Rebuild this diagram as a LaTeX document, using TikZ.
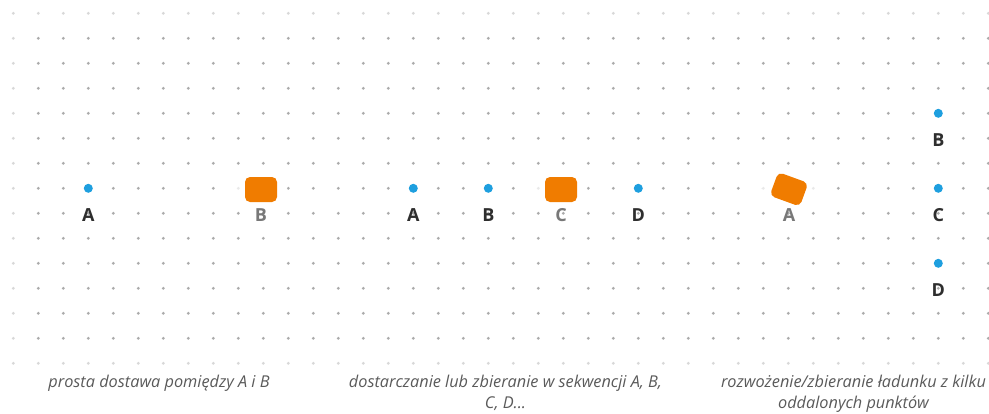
\documentclass[tikz,border=0pt]{standalone}
\usepackage{fontspec}
\setmainfont{Open Sans}
\usepackage{xcolor}
\usepackage{tikz}
\usetikzlibrary{positioning}
\definecolor{Sky}{HTML}{1E9FDF}
\definecolor{Cargo}{HTML}{F07C00}
\definecolor{GridDot}{HTML}{ABABAB}
\definecolor{GridFade}{HTML}{D8D8D8}
\definecolor{Ink}{HTML}{2E2E2E}
\definecolor{Muted}{HTML}{787878}
\definecolor{Caption}{HTML}{5A5A5A}

\begin{document}
\begin{tikzpicture}[
  x=1pt,y=-1pt,
  stop/.style={circle,fill=Sky,inner sep=0pt,minimum size=9pt},
  parcel/.style={fill=Cargo,rounded corners=5pt,inner sep=0pt,minimum width=32pt,minimum height=25pt},
  halo/.style={fill=white,fill opacity=0.75,rounded corners=8pt,inner sep=0pt,minimum width=52pt,minimum height=29pt},
  ptlabel/.style={font=\bfseries\fontsize{18}{18}\selectfont,text=Ink,inner sep=0pt,text height=12.9pt,text depth=0pt},
  boxlabel/.style={ptlabel,text=Muted},
  caption/.style={font=\itshape\fontsize{16.3}{21.5}\selectfont,text=Caption,align=center,anchor=base,inner sep=0pt}]
  \useasboundingbox[fill=white] (0,0) rectangle (989,413);
  % dotted background
  \foreach \i in {1,...,39}
    \foreach \j in {1,...,13}
      \fill[GridDot] (13.3+25*\i,13.3+25*\j) circle (1.6pt);
  \foreach \i in {0,...,39} {
    \fill[GridFade] (13.3+25*\i,13.3) circle (1.6pt);
    \fill[GridFade] (13.3+25*\i,363.3) circle (1.6pt);}
  \foreach \j in {1,...,13}
    \fill[GridFade] (13.3,13.3+25*\j) circle (1.6pt);

  % first scene: A -> B
  \node[stop] (a1) at (88.3,188.3) {};
  \node[halo] at (261,189.5) {};
  \node[parcel] (b1) at (261,189.5) {};
  \node[ptlabel,below=15.5pt of a1] (la1) {A};
  \node[boxlabel] (lb1) at (la1 -| b1) {B};

  % second scene: A, B, C, D
  \node[stop] (a2) at (413.3,188.3) {};
  \node[stop] (b2) at (488.3,188.3) {};
  \node[halo] at (561,189.5) {};
  \node[parcel] (c2) at (561,189.5) {};
  \node[stop] (d2) at (638.3,188.3) {};
  \node[ptlabel,below=15.5pt of a2] (la2) {A};
  \node[ptlabel,below=15.5pt of b2] (lb2) {B};
  \node[boxlabel] (lc2) at (la2 -| c2) {C};
  \node[ptlabel,below=15.5pt of d2] (ld2) {D};

  % third scene: A to B, C, D
  \node[halo,rotate=-20] at (789,189.3) {};
  \node[parcel,rotate=-20] (a3) at (789,189.3) {};
  \node[stop] (b3) at (938.3,113.3) {};
  \node[stop] (c3) at (938.3,188.3) {};
  \node[stop] (d3) at (938.3,263.3) {};
  \node[ptlabel,below=15.5pt of b3] (lb3) {B};
  \node[ptlabel,below=15.5pt of c3] (lc3) {C};
  \node[ptlabel,below=15.5pt of d3] (ld3) {D};
  \node[boxlabel] (la3) at (lc3 -| a3) {A};

  % captions (base = last line)
  \node[caption] (cap1) at (159,387) {prosta dostawa pomiędzy A i B};
  \node[caption] (cap2) at (505.5,408.5) {dostarczanie lub zbieranie w sekwencji A, B,\\C, D...};
  \node[caption] (cap3) at (853.5,408.5) {rozwożenie/zbieranie ładunku z kilku\\oddalonych punktów};
\end{tikzpicture}
\end{document}
